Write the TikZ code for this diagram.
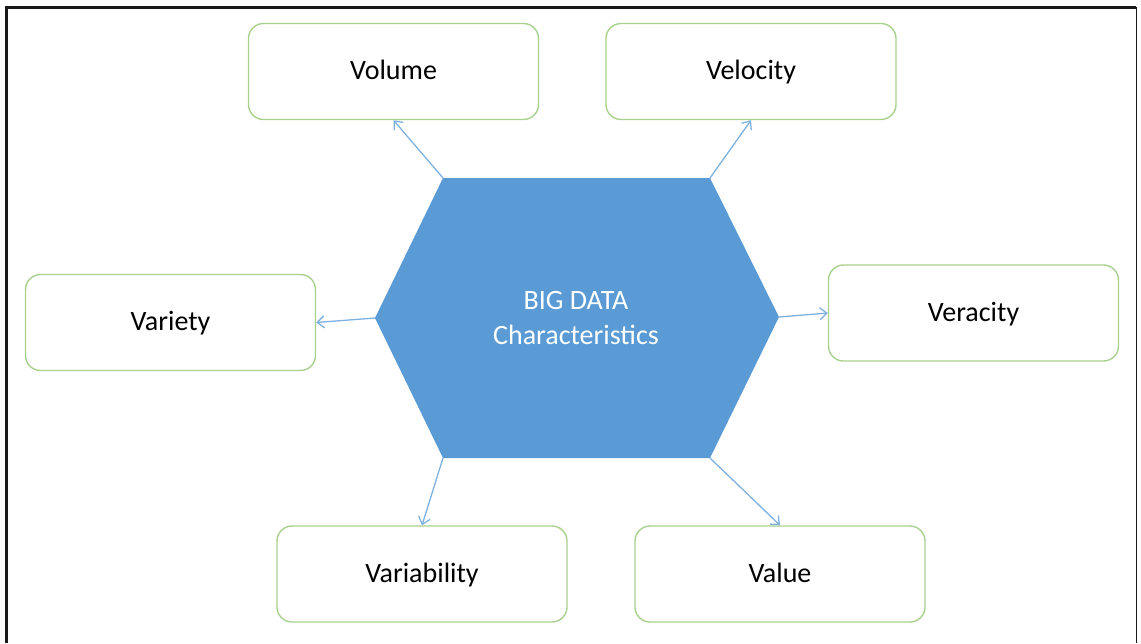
\documentclass[tikz,border=0pt]{standalone}
\usepackage{fontspec}
\setmainfont{Carlito}
\usetikzlibrary{arrows.meta}
\definecolor{boxgreen}{HTML}{A9D18E}
\definecolor{hexblue}{HTML}{5B9BD5}
\definecolor{linkblue}{HTML}{7EB1E0}
\tikzset{
    vbox/.style = {draw = boxgreen, line width = 1.4pt, rectangle, rounded corners = 15pt, fill = white,
                   minimum width = 290pt, minimum height = 96pt, text height = 19pt, text depth = 3pt,
                   font = \fontsize{28}{34}\selectfont},
    link/.style = {-{Straight Barb[length = 7pt, width = 12pt]}, line width = 1.3pt, linkblue}
}

\begin{document}
\begin{tikzpicture}
        \useasboundingbox (0pt, 0pt) rectangle (1141pt, -643pt);
        % Frame
        \draw [line width = 3pt, black!90] (6pt, -643pt) -- (6pt, -7pt) -- (1136pt, -7pt);
        \draw [line width = 1pt, black!90] (1136pt, -7pt) -- (1136pt, -643pt);

        % Hexagon corners
        \coordinate (htl) at (443pt, -178pt);
        \coordinate (htr) at (710pt, -178pt);
        \coordinate (hr) at (779pt, -317pt);
        \coordinate (hbr) at (710pt, -458pt);
        \coordinate (hbl) at (443pt, -458pt);
        \coordinate (hl) at (375pt, -318pt);
        \fill [hexblue] (htl) -- (htr) -- (hr) -- (hbr) -- (hbl) -- (hl) -- cycle;
        \node [text = white, align = center, font = \fontsize{28}{35}\selectfont] (hex) at (576pt, -318pt) {BIG DATA\\Characteristics};

        % Nodes
        \node [vbox] (volume) at (393.5pt, -71.5pt) {Volume};
        \node [vbox] (velocity) at (751pt, -71.5pt) {Velocity};
        \node [vbox] (variety) at (170.5pt, -322.5pt) {Variety};
        \node [vbox] (veracity) at (973.5pt, -313pt) {Veracity};
        \node [vbox] (variability) at (422pt, -574pt) {Variability};
        \node [vbox] (value) at (780pt, -574pt) {Value};

        % Draw the links
        \draw [link] (htl) -- (volume.south);
        \draw [link] (htr) -- (velocity.south);
        \draw [link] (hl) -- (variety.east);
        \draw [link] (hr) -- (veracity.west);
        \draw [link] (hbl) -- (variability.north);
        \draw [link] (hbr) -- (value.north);

    \end{tikzpicture}
\end{document}
